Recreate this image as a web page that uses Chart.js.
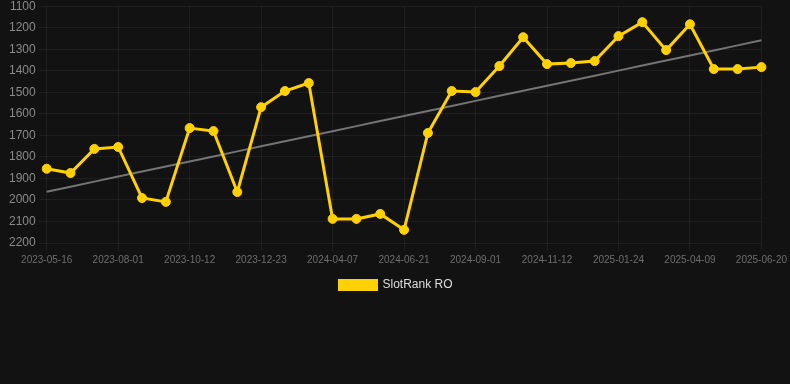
<!DOCTYPE html>
<html>
<head>
<meta charset="utf-8">
<script src="https://cdn.jsdelivr.net/npm/chart.js@4/dist/chart.umd.min.js"></script>
<style>
  html, body { margin: 0; padding: 0; background: #121212; }
  #wrap { position: relative; width: 790px; height: 305px; margin-top: -4px; }
</style>
</head>
<body>
<div id="wrap"><canvas id="rankChart"></canvas></div>
<script>
// Dates of each rank sample
const dates = [
    '2023-05-16', '2023-06-11', '2023-07-06', '2023-08-01', '2023-08-25', '2023-09-18',
    '2023-10-12', '2023-11-05', '2023-11-29', '2023-12-23', '2024-01-28', '2024-03-02',
    '2024-04-07', '2024-05-02', '2024-05-27', '2024-06-21', '2024-07-15', '2024-08-08',
    '2024-09-01', '2024-09-25', '2024-10-19', '2024-11-12', '2024-12-06', '2024-12-31',
    '2025-01-24', '2025-02-17', '2025-03-14', '2025-04-09', '2025-05-03', '2025-05-27',
    '2025-06-20'
];

// SlotRank RO values (lower is better)
const rankValues = [
    1855, 1875, 1763, 1754, 1991, 2009,
    1666, 1680, 1963, 1569, 1494, 1457,
    2088, 2088, 2065, 2139, 1689, 1494,
    1499, 1378, 1244, 1369, 1364, 1355,
    1239, 1174, 1304, 1184, 1392, 1392,
    1383
];

const yTicks = { min: 1100, max: 2200, step: 100 };

// Least squares trend over the sample index
function trendLine(values) {
    const n = values.length;
    const mx = (n - 1) / 2;
    const my = values.reduce((a, b) => a + b, 0) / n;
    let num = 0, den = 0;
    values.forEach((v, i) => { num += (i - mx) * (v - my); den += (i - mx) * (i - mx); });
    const slope = num / den;
    return values.map((v, i) => my + slope * (i - mx));
}

const gold = '#ffd100';
const gridColor = 'rgba(255,255,255,0.05)';
const fontFamily = 'Arial, "Liberation Sans", Helvetica, sans-serif';

new Chart(document.getElementById('rankChart'), {
    type: 'line',
    data: {
        labels: dates,
        datasets: [{
            label: 'SlotRank RO',
            data: rankValues,
            borderColor: gold,
            backgroundColor: gold,
            borderWidth: 3,
            pointRadius: 4.5,
            pointBorderWidth: 1,
            pointBackgroundColor: gold,
            pointBorderColor: gold,
            tension: 0
        }, {
            label: 'trend',
            data: trendLine(rankValues),
            borderColor: 'rgba(150,150,150,0.75)',
            borderWidth: 2,
            pointRadius: 0,
            fill: false
        }]
    },
    options: {
        responsive: true,
        maintainAspectRatio: false,
        animation: false,
        layout: { padding: { left: 6, right: 4 } },
        plugins: {
            legend: {
                position: 'bottom',
                labels: {
                    color: '#dddddd',
                    boxWidth: 37,
                    boxHeight: 9,
                    font: { size: 12, family: fontFamily },
                    filter: item => item.text !== 'trend'
                }
            },
            tooltip: { enabled: false }
        },
        scales: {
            x: {
                grid: { color: gridColor },
                border: { display: false },
                ticks: {
                    color: '#6e6e6e',
                    maxRotation: 0,
                    autoSkip: true,
                    font: { size: 10, family: fontFamily }
                }
            },
            y: {
                reverse: true,
                min: yTicks.min,
                max: yTicks.max,
                grid: { color: gridColor },
                border: { display: false },
                ticks: {
                    stepSize: yTicks.step,
                    color: '#8a8a8a',
                    callback: v => String(v),
                    font: { size: 12, family: fontFamily }
                }
            }
        }
    }
});
</script>
</body>
</html>
